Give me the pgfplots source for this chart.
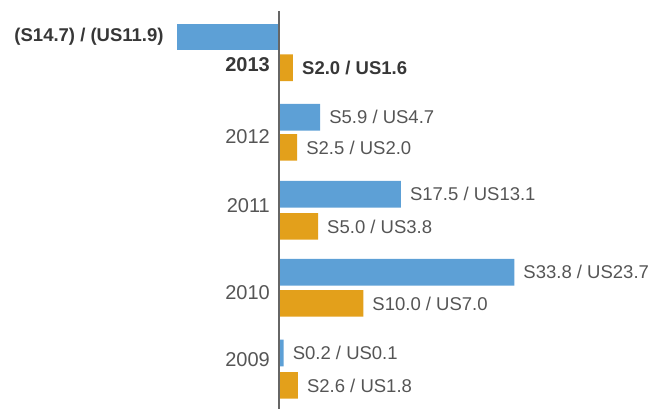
\documentclass[border=0pt]{standalone}
\usepackage{pgfplots}
\pgfplotsset{compat=1.18}
\usepackage{fontspec}
\setmainfont{Liberation Sans}
\definecolor{barblue}{RGB}{93,160,214}
\definecolor{barorange}{RGB}{227,160,27}
\definecolor{txt}{RGB}{85,85,85}
\definecolor{txtbold}{RGB}{55,55,55}
\begin{document}
\begin{tikzpicture}
\begin{axis}[
    width=650pt, height=409pt, scale only axis,
    xmin=-40.1, xmax=53.3,
    ymin=0, ymax=409, y dir=reverse,
    axis lines=none,
    xbar, bar width=26.7pt, bar shift=0pt,
    clip=false,
    point meta=explicit symbolic,
    nodes near coords,
    every node near coord/.append style={anchor=west, inner sep=0pt, xshift=9pt,
        font=\fontsize{18.5}{20}\selectfont, text=txt},
]
% blue series, 2013 (negative)
\addplot[draw=none, fill=barblue,
    every node near coord/.append style={anchor=east, xshift=-22pt}] coordinates {
    (-14.7,37.0)  [\textbf{\color{txtbold}(S14.7) / (US11.9)}]
};
% blue series (drawn bar lengths)
\addplot[draw=none, fill=barblue] coordinates {
    (5.9,117.3)   [S5.9 / US4.7]
    (17.5,194.3)  [S17.5 / US13.1]
    (33.8,272.3)  [S33.8 / US23.7]
    (0.65,353.0)  [S0.2 / US0.1]
};
% orange series
\addplot[draw=none, fill=barorange] coordinates {
    (2.0,67.7)    [\textbf{\color{txtbold}S2.0 / US1.6}]
    (2.6,147.4)   [S2.5 / US2.0]
    (5.6,226.4)   [S5.0 / US3.8]
    (12.1,303.4)  [S10.0 / US7.0]
    (2.7,385.4)   [S2.6 / US1.8]
};
% zero line
\draw[gray!80!black, line width=1.6pt] (axis cs:0,11) -- (axis cs:0,409);
% year labels
\begin{scope}[every node/.style={anchor=east, inner sep=0pt,
        font=\fontsize{20}{22}\selectfont, text=txt}]
\node at (axis cs:-1.3,64.5) {\textbf{\color{txtbold}2013}};
\node at (axis cs:-1.3,137) {2012};
\node at (axis cs:-1.3,206) {2011};
\node at (axis cs:-1.3,292.5) {2010};
\node at (axis cs:-1.3,359.5) {2009};
\end{scope}
\end{axis}
\pgfresetboundingbox
\path (current axis.south west) rectangle (current axis.north east);
\end{tikzpicture}
\end{document}
